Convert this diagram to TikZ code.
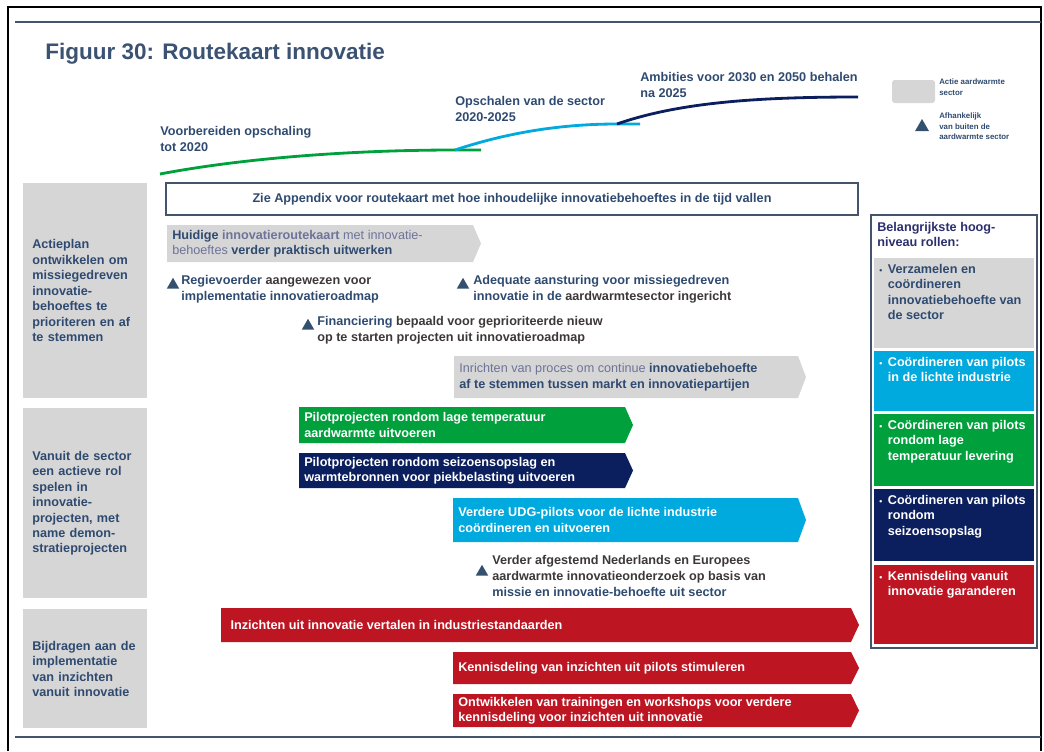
\documentclass[tikz,border=0pt]{standalone}
\usepackage{fontspec}
\setmainfont{Liberation Sans}
\usetikzlibrary{shapes.geometric}
\definecolor{titleblue}{HTML}{3B5272}
\definecolor{txtblue}{HTML}{2F4A70}
\definecolor{lighttxt}{HTML}{6E7399}
\definecolor{darktxt}{HTML}{3D3838}
\definecolor{frameblue}{HTML}{44546A}
\definecolor{boxgray}{HTML}{D6D6D6}
\definecolor{udggreen}{HTML}{00A03C}
\definecolor{udgnavy}{HTML}{0B1F5E}
\definecolor{udgcyan}{HTML}{00A9DE}
\definecolor{udgred}{HTML}{BE1523}
\definecolor{trigblue}{HTML}{34506F}
\definecolor{headpurple}{HTML}{2C2F6E}
\tikzset{
  lane/.style   ={fill=boxgray,text=txtblue,font=\fontsize{9}{11}\selectfont\bfseries,align=left,text width=2.65cm,inner xsep=0.225cm,anchor=north west},
  bartxt/.style ={font=\fontsize{9}{11}\selectfont\bfseries,align=left,inner sep=0pt,anchor=west},
  note/.style   ={font=\fontsize{9}{11.5}\selectfont\bfseries,text=txtblue,align=left,inner sep=0pt,anchor=north west},
  dep/.style    ={regular polygon,regular polygon sides=3,fill=trigblue,inner sep=0pt,minimum size=0.36cm},
  phase/.style  ={font=\fontsize{9}{11.5}\selectfont\bfseries,text=txtblue,align=left,inner sep=0pt,anchor=north west},
  trackline/.style={line width=2pt},
  role/.style   ={font=\fontsize{9}{11}\selectfont\bfseries,inner sep=0pt,anchor=north west},
  legtxt/.style ={font=\fontsize{5.6}{7.2}\selectfont\bfseries,text=txtblue,align=left,inner sep=0pt,anchor=north west},
}
% name, x1, y1, x2, y2, fill, text colour, text
\newcommand{\roadbar}[8]{%
  \fill[#6] (#2,#3) -- ({#4-8},#3) -- (#4,{(#3+#5)/2}) -- ({#4-8},#5) -- (#2,#5) -- cycle;
  \node[bartxt,text=#7] (#1) at ({#2+5},{(#3+#5)/2}) {#8};}
% name, top, bottom, fill, text colour, rows
\newcommand{\rolepart}[6]{%
  \fill[#4] (874,#2) rectangle (1034,#3);
  \node[role,text=#5] (#1) at (879,{#2+4}) {\begin{tabular}{@{}l@{\hspace{4pt}}l@{}}#6\end{tabular}};}
\newcommand{\rolebullet}{{\fontsize{6}{6}\selectfont\textbullet}}
\begin{document}
\begin{tikzpicture}[x=0.025cm,y=-0.025cm]
  \useasboundingbox (0,0) rectangle (1044,751);
  % frame
  \draw[line width=1.2pt] (8,751) -- (8,7) -- (1041,7) -- (1041,751);
  \draw[frameblue,line width=1pt] (15,22) -- (1041,22);
  \draw[frameblue,line width=1.5pt] (15,737) -- (1041,737);
  \node[font=\fontsize{16}{19}\selectfont\bfseries,text=titleblue,anchor=west,inner sep=0pt] (title) at (45,54) {Figuur 30: Routekaart innovatie};

  % phases
  \draw[trackline,udggreen] (160,174) .. controls (250,157) and (360,150) .. (455,150) -- (481,150);
  \draw[trackline,udgcyan] (455,150) .. controls (515,130) and (570,124) .. (617,124) -- (640,124);
  \draw[trackline,udgnavy] (617,124) .. controls (680,102) and (760,97) .. (858,97);
  \node[phase] (ph1) at (160,126) {Voorbereiden opschaling\\tot 2020};
  \node[phase] (ph2) at (455,96) {Opschalen van de sector\\2020-2025};
  \node[phase] (ph3) at (640,72) {Ambities voor 2030 en 2050 behalen\\na 2025};

  % legend
  \fill[boxgray,rounded corners=2pt] (892,80) rectangle (935,103);
  \node[legtxt] (leg1) at (939,79) {Actie aardwarmte\\sector};
  \node[dep,minimum size=0.4cm] (legdep) at (922,127) {};
  \node[legtxt] (leg2) at (939,113) {Afhankelijk\\van buiten de\\aardwarmte sector};

  % appendix
  \node[draw=frameblue,line width=1.2pt,minimum width=17.3cm,minimum height=0.8cm,font=\fontsize{9}{11}\selectfont\bfseries,text=txtblue] (appx) at (512,199) {Zie Appendix voor routekaart met hoe inhoudelijke innovatiebehoeftes in de tijd vallen};

  % lanes
  \node[lane,minimum height=5.375cm] (lane1) at (23,183) {Actieplan\\ontwikkelen om\\missiegedreven\\innovatie-\\behoeftes te\\prioriteren en af\\te stemmen};
  \node[lane,minimum height=4.75cm] (lane2) at (23,408) {Vanuit de sector\\een actieve rol\\spelen in\\innovatie-\\projecten, met\\name demon-\\stratieprojecten};
  \node[lane,minimum height=2.975cm] (lane3) at (23,609) {Bijdragen aan de\\implementatie\\van inzichten\\vanuit innovatie};

  % lane 1
  \roadbar{huidig}{167}{225}{481}{262}{boxgray}{txtblue}{Huidige {\color{lighttxt}innovatieroutekaart \mdseries met innovatie-}\\{\color{lighttxt}\mdseries behoeftes} verder praktisch uitwerken}
  \node[dep] (d1) at (173,285) {};
  \node[note] (regie) at (181,275) {Regievoerder {\color{darktxt}aangewezen voor}\\implementatie innovatieroadmap};
  \node[dep] (d2) at (463,285) {};
  \node[note] (adequaat) at (473,275) {Adequate aansturing voor missiegedreven\\innovatie in de {\color{darktxt}aardwarmtesector ingericht}};
  \node[dep] (d3) at (308,326) {};
  \node[note] (financ) at (317,316) {Financiering {\color{darktxt}bepaald voor geprioriteerde nieuw}\\{\color{darktxt}op te starten projecten uit innovatieroadmap}};
  \roadbar{proces}{454}{356}{806}{398}{boxgray}{txtblue}{{\color{lighttxt}\mdseries Inrichten van proces om continue} innovatiebehoefte\\af te stemmen tussen markt en innovatiepartijen}

  % lane 2
  \roadbar{lagetemp}{299}{407}{633}{443}{udggreen}{white}{Pilotprojecten rondom lage temperatuur\\aardwarmte uitvoeren}
  \roadbar{seizoen}{299}{453}{633}{488}{udgnavy}{white}{Pilotprojecten rondom seizoensopslag en\\warmtebronnen voor piekbelasting uitvoeren}
  \roadbar{udgpilot}{453}{498}{806}{542}{udgcyan}{white}{Verdere UDG-pilots voor de lichte industrie\\coördineren en uitvoeren}
  \node[dep] (d4) at (482,572) {};
  \node[note] (onderzoek) at (492,555) {{\color{darktxt}Verder afgestemd Nederlands en Europees}\\{\color{darktxt}aardwarmte innovatieonderzoek op basis van}\\missie en innovatie-behoefte uit sector};

  % lane 3
  \roadbar{standaard}{221}{608}{859}{642}{udgred}{white}{\hspace{3pt}Inzichten uit innovatie vertalen in industriestandaarden}
  \roadbar{kennis}{453}{652}{859}{684}{udgred}{white}{Kennisdeling van inzichten uit pilots stimuleren}
  \roadbar{training}{453}{694}{859}{727}{udgred}{white}{Ontwikkelen van trainingen en workshops voor verdere\\kennisdeling voor inzichten uit innovatie}

  % roles
  \draw[frameblue,line width=1.4pt,fill=white] (871,215) rectangle (1037,648);
  \node[role,text=headpurple,align=left] (rolehead) at (877,222) {Belangrijkste hoog-\\niveau rollen:};
  \rolepart{rgray}{258}{348}{boxgray}{txtblue}{\rolebullet & Verzamelen en\\ & coördineren\\ & innovatiebehoefte van\\ & de sector}
  \rolepart{rcyan}{351}{411}{udgcyan}{white}{\rolebullet & Coördineren van pilots\\ & in de lichte industrie}
  \rolepart{rgreen}{414}{486}{udggreen}{white}{\rolebullet & Coördineren van pilots\\ & rondom lage\\ & temperatuur levering}
  \rolepart{rnavy}{489}{561}{udgnavy}{white}{\rolebullet & Coördineren van pilots\\ & rondom\\ & seizoensopslag}
  \rolepart{rred}{565}{644}{udgred}{white}{\rolebullet & Kennisdeling vanuit\\ & innovatie garanderen}
\end{tikzpicture}
\end{document}
